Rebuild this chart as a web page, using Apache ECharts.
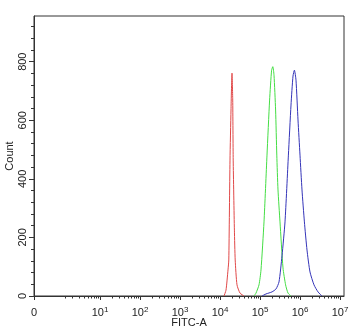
<!DOCTYPE html>
<html><head><meta charset="utf-8">
<script src="https://cdn.jsdelivr.net/npm/echarts@6/dist/echarts.min.js"></script>
<style>html,body{margin:0;padding:0;background:#fff}#c{width:350px;height:329px}</style>
</head><body><div id="c"></div>
<script>
// x positions are log10(FITC-A); y are counts
const redLog10 =   [4.10,4.15,4.20,4.22,4.25,4.275,4.30,4.318,4.33,4.36,4.38,4.425,4.50,4.60];
const redCount =   [0,   20,  89,  123, 464, 635,  761, 669,  464, 225, 123, 38,   10,  0];
const greenLog10 = [4.85,4.90,4.975,5.025,5.10,5.175,5.24,5.29,5.32,5.35,5.39,5.42,5.45,5.50,5.575,5.64,5.70,5.775];
const greenCount = [0,   10,  38,   89,   253, 481,  669, 771, 783, 754, 635, 481, 362, 253, 96,   38,  10,  0];
const blueLog10 =  [5.05,5.15,5.30,5.40,5.475,5.55,5.625,5.71,5.775,5.825,5.86,5.90,5.95,6.00,6.05,6.11,6.175,6.25,6.35,6.45,6.55];
const blueCount =  [0,   7,   14,  24,  48,   137, 253,  481, 652,  751,  771, 737, 601, 481, 362, 253, 157,  82,  38,  14,  0];
const xZero = -0.65;             // axis position of the "0" label
const xDecades = [1,2,3,4,5,6,7]; // 10^1 .. 10^7
const yTicks = [0,200,400,600,800];

const xMinor = [0.12];
for (let d = 0; d < 7; d++) for (let k = 2; k <= 9; k++) xMinor.push(d + Math.log10(k));
const yMinor = [];
for (let v = 40; v < 956; v += 40) if (v % 200 !== 0) yMinor.push(v);

const pairs = (xs, ys) => xs.map((x, i) => [x, ys[i]]);
const font = {fontFamily: 'Liberation Sans, Arial, sans-serif', fontSize: 11, color: '#222'};
const xMin = xZero, xMax = 7.1, yMax = 956;

const chart = echarts.init(document.getElementById('c'), null, {renderer: 'canvas'});
chart.setOption({
  animation: false,
  grid: {left: 34, right: 6, top: 16, bottom: 33, containLabel: false, outerBoundsMode: 'none', show: true, borderColor: '#333', borderWidth: 1},
  xAxis: [{
    type: 'value', min: xMin, max: xMax, position: 'bottom',
    name: 'FITC-A', nameLocation: 'middle', nameGap: 21, nameMoveOverlap: false, nameTextStyle: font,
    axisLine: {show: true, onZero: false, lineStyle: {color: '#333', width: 1}},
    axisTick: {show: true, inside: false, length: 4, customValues: [xZero].concat(xDecades), lineStyle: {color: '#333'}},
    axisLabel: {show: true, margin: 10, customValues: [xZero].concat(xDecades),
      formatter: v => v < 0.5 ? '{b|0}' : '{b|10}{s|' + Math.round(v) + '}',
      rich: {b: Object.assign({}, font, {lineHeight: 14}), s: Object.assign({}, font, {fontSize: 8, lineHeight: 14, verticalAlign: 'top', padding: [0, 0, 6, 0]})}},
    splitLine: {show: false}
  }, {
    type: 'value', min: xMin, max: xMax, position: 'bottom', offset: 0,
    axisLine: {show: false, onZero: false},
    axisTick: {show: true, inside: false, length: 2.5, customValues: xMinor, lineStyle: {color: '#333'}},
    axisLabel: {show: false}, splitLine: {show: false}
  }],
  yAxis: [{
    type: 'value', min: 0, max: yMax, position: 'left',
    name: 'Count', nameLocation: 'middle', nameGap: 19, nameRotate: 90, nameMoveOverlap: false, nameTextStyle: font,
    axisLine: {show: true, onZero: false, lineStyle: {color: '#333', width: 1}},
    axisTick: {show: true, inside: false, length: 5, customValues: yTicks, lineStyle: {color: '#333'}},
    axisLabel: Object.assign({show: true, rotate: 90, margin: 6, customValues: yTicks}, font),
    splitLine: {show: false}
  }, {
    type: 'value', min: 0, max: yMax, position: 'left', offset: 0,
    axisLine: {show: false, onZero: false},
    axisTick: {show: true, inside: false, length: 3, customValues: yMinor, lineStyle: {color: '#333'}},
    axisLabel: {show: false}, splitLine: {show: false}
  }],
  series: [
    {type: 'line', data: pairs(redLog10, redCount), showSymbol: false, smooth: 0.2, lineStyle: {color: '#e04848', width: 1}},
    {type: 'line', data: pairs(greenLog10, greenCount), showSymbol: false, smooth: 0.2, lineStyle: {color: '#44dd44', width: 1}},
    {type: 'line', data: pairs(blueLog10, blueCount), showSymbol: false, smooth: 0.2, lineStyle: {color: '#3434b8', width: 1}}
  ]
});
</script></body></html>
